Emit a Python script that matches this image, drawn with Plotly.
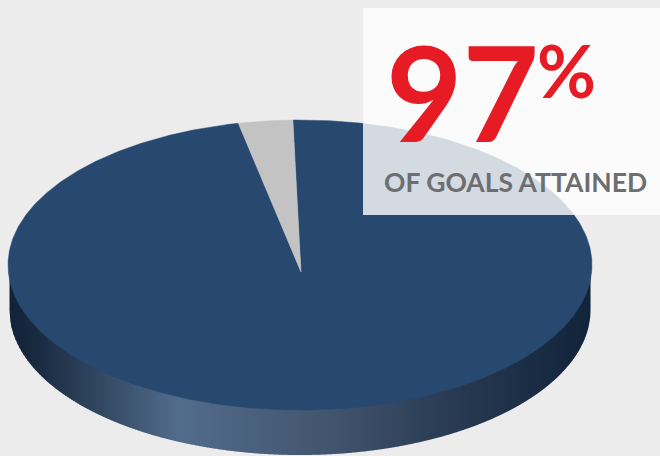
import numpy as np
import plotly.graph_objects as go

# Data
labels = ["Attained", "Not attained"]
values = [97, 3]
slice_colors = ["#27486F", "#C3C3C3"]
start_deg = -1.4

# Gradient stops for the rim (fraction across width, colour)
rim_pos = [0.0, 0.05, 0.29, 0.55, 0.75, 0.93, 1.0]
rim_rgb = [(18, 34, 56), (26, 44, 66), (82, 108, 140), (66, 85, 110), (42, 60, 84), (24, 42, 64), (18, 36, 60)]

# Projection of the disc onto the page, in pixels
W, H = 660, 456
cx, cy, rx, ry = 300.0, 265.0, 292.0, 145.0
apex_x, apex_y = 301.0, 272.0
depth = 45.0

fig = go.Figure()


def rim_color(f):
    c = [np.interp(f, rim_pos, [r[i] for r in rim_rgb]) for i in range(3)]
    return "rgb(%d,%d,%d)" % tuple(round(v) for v in c)


# Rim: narrow filled strips under the lower half of the ellipse
rim_rx = rx - 1.5
edges = np.arange(cx - rim_rx, cx + rim_rx + 2.0, 2.0)
edges[-1] = min(edges[-1], cx + rim_rx)
for a, b in zip(edges[:-1], edges[1:]):
    xs = np.linspace(a, min(b + 0.6, cx + rim_rx), 4)
    low = cy + ry * np.sqrt(np.clip(1 - ((xs - cx) / rim_rx) ** 2, 0, 1))
    fig.add_trace(go.Scatter(
        x=np.r_[xs, xs[::-1]], y=np.r_[low + depth, (low - 4)[::-1]],
        fill="toself", fillcolor=rim_color((a - (cx - rim_rx)) / (2 * rim_rx)),
        mode="none", hoverinfo="skip", showlegend=False))

# Slices computed from the values
total = sum(values)
ang = np.deg2rad(start_deg)
for name, v, col in zip(labels, values, slice_colors):
    span = 2 * np.pi * v / total
    t = np.linspace(ang, ang + span, max(8, int(v * 8)))
    xs = cx + rx * np.sin(t)
    ys = cy - ry * np.cos(t)
    fig.add_trace(go.Scatter(
        x=np.r_[apex_x, xs, apex_x], y=np.r_[apex_y, ys, apex_y],
        fill="toself", fillcolor=col, mode="lines", line=dict(color=col, width=0.5),
        name=name, hoverinfo="name", showlegend=False))
    ang += span

fig.update_layout(
    width=W, height=H, autosize=False,
    margin=dict(l=0, r=0, t=0, b=0),
    paper_bgcolor="#ECECEC", plot_bgcolor="#ECECEC",
    showlegend=False,
    xaxis=dict(range=[0, W], visible=False, fixedrange=True),
    yaxis=dict(range=[H, 0], visible=False, fixedrange=True),
    shapes=[dict(type="rect", xref="x", yref="y", x0=363, x1=W, y0=8, y1=215,
                 fillcolor="rgba(255,255,255,0.8)", line=dict(width=0), layer="above")],
    annotations=[
        dict(text="<b>97</b>", x=384, y=146, xref="x", yref="y", xanchor="left", yanchor="bottom",
             showarrow=False, yshift=-26, font=dict(family="Lato", size=132, color="#E61B23")),
        dict(text="<b>%</b>", x=535, y=100, xref="x", yref="y", xanchor="left", yanchor="bottom",
             showarrow=False, yshift=-15, font=dict(family="Lato", size=72, color="#E61B23")),
        dict(text="<b>OF GOALS ATTAINED</b>", x=382, y=194, xref="x", yref="y", xanchor="left", yanchor="bottom",
             showarrow=False, yshift=-6, font=dict(family="Lato", size=26.5, color="#6D6E71")),
    ],
)
fig.write_html("out.html", config=dict(displayModeBar=False),
               post_script="document.body.style.margin='0';document.body.style.background='#ECECEC';"
                           "document.documentElement.style.overflow='hidden';")
